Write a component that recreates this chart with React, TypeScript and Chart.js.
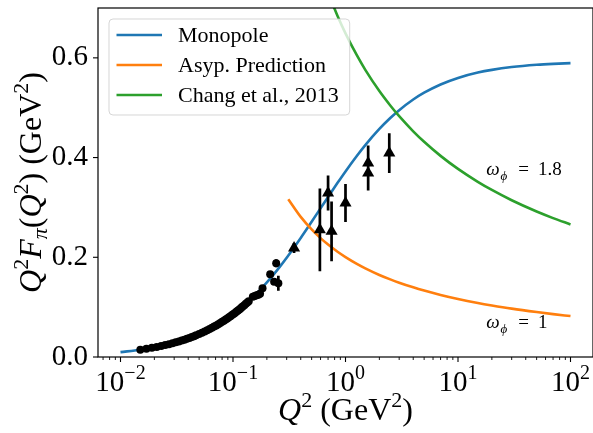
import React, { useEffect, useRef } from 'react';
import { Chart, registerables } from 'chart.js';
Chart.register(...registerables);

// ---- data ----
const curveQ2 = [0.01, 0.015, 0.02, 0.03, 0.04, 0.05, 0.07, 0.1, 0.15, 0.2, 0.25, 0.3, 0.4, 0.5, 0.6, 0.7, 0.85, 1, 1.25, 1.5, 2, 2.5, 3, 4, 5, 7, 10, 15, 20, 30, 50, 70, 100];
const monopole = [0.00983, 0.01463, 0.01935, 0.02856, 0.03747, 0.04611, 0.06261, 0.08557, 0.11971, 0.14956, 0.17586, 0.19922, 0.23887, 0.27131, 0.29824, 0.32104, 0.3493, 0.37225, 0.4022, 0.425, 0.45738, 0.4793, 0.4951, 0.51644, 0.53012, 0.54668, 0.5598, 0.57045, 0.57592, 0.58151, 0.58605, 0.58802, 0.5895];

const asypQ2 = [0.31, 0.4, 0.5, 0.6, 0.7, 0.85, 1, 1.25, 1.5, 2, 2.5, 3, 4, 5, 7, 10, 15, 20, 30, 50, 70, 100];
const asyp = [0.3164, 0.281, 0.2559, 0.2385, 0.2255, 0.2111, 0.2004, 0.1873, 0.1778, 0.1646, 0.1557, 0.1491, 0.1397, 0.1332, 0.1245, 0.1164, 0.1084, 0.1034, 0.097, 0.0901, 0.086, 0.0821];

const changQ2 = [0.7, 0.85, 1, 1.25, 1.5, 2, 2.5, 3, 4, 5, 7, 10, 15, 20, 30, 50, 70, 100];
const chang = [0.7308, 0.684, 0.6492, 0.6068, 0.576, 0.5334, 0.5045, 0.483, 0.4527, 0.4317, 0.4034, 0.3772, 0.3513, 0.335, 0.3144, 0.2918, 0.2786, 0.2659];

const dotQ2 = [0.015, 0.017, 0.019, 0.021, 0.023, 0.025, 0.027, 0.029, 0.031, 0.033, 0.035, 0.037, 0.039, 0.041, 0.043, 0.045, 0.047, 0.05, 0.053, 0.056, 0.059, 0.062, 0.065, 0.068, 0.071, 0.074, 0.077, 0.08, 0.083, 0.086, 0.089, 0.092, 0.095, 0.098, 0.101, 0.104, 0.107, 0.11, 0.113, 0.116, 0.119, 0.122, 0.126, 0.13, 0.134, 0.138, 0.15, 0.156, 0.162, 0.168, 0.174, 0.183, 0.214, 0.232];
const dotVal = [0.0146, 0.0165, 0.0184, 0.0203, 0.0221, 0.024, 0.0258, 0.0276, 0.0295, 0.0313, 0.033, 0.0348, 0.0365, 0.0383, 0.04, 0.0417, 0.0434, 0.046, 0.0486, 0.0512, 0.0537, 0.0561, 0.0586, 0.061, 0.0634, 0.0658, 0.0682, 0.0705, 0.0728, 0.0751, 0.0774, 0.0796, 0.0819, 0.0841, 0.0863, 0.0885, 0.0906, 0.0928, 0.0949, 0.097, 0.0991, 0.1012, 0.1039, 0.1066, 0.1093, 0.112, 0.121, 0.1225, 0.1238, 0.125, 0.1268, 0.138, 0.166, 0.151];

const dotErrQ2 = [0.242, 0.253];
const dotErrVal = [0.188, 0.148];
const dotErr = [0.008, 0.015];

const triQ2 = [0.349, 0.592, 0.7, 0.752, 1.0, 1.59, 1.59, 2.45];
const triVal = [0.2185, 0.255, 0.329, 0.252, 0.309, 0.389, 0.369, 0.409];
const triErr = [0.01, 0.083, 0.035, 0.06, 0.038, 0.035, 0.035, 0.04];

const xTickExps = [-2, -1, 0, 1, 2];
const yTicks = [0, 0.2, 0.4, 0.6];
const legendLabels = ['Monopole', 'Asyp. Prediction', 'Chang et al., 2013'];
const omegaLabels = ['1.8', '1'];
const omegaQ2 = [17.8, 17.8];
const omegaY = [0.366, 0.058];

const BLUE = '#1f77b4';
const ORANGE = '#ff7f0e';
const GREEN = '#2ca02c';
const FONT = '"Liberation Serif", "Times New Roman", serif';

type Part = { t: string; s?: number; it?: boolean; dy?: number; dx?: number };

function fontOf(p: Part, base: number) {
  return `${p.it ? 'italic ' : ''}${p.s ?? base}px ${FONT}`;
}
function drawRich(ctx: CanvasRenderingContext2D, parts: Part[], x: number, y: number, base: number, align: 'center' | 'left') {
  let w = 0;
  for (const p of parts) {
    ctx.font = fontOf(p, base);
    w += ctx.measureText(p.t).width + (p.dx ?? 0);
  }
  let cx = align === 'center' ? x - w / 2 : x;
  ctx.textAlign = 'left';
  ctx.textBaseline = 'alphabetic';
  for (const p of parts) {
    ctx.font = fontOf(p, base);
    cx += p.dx ?? 0;
    ctx.fillText(p.t, cx, y + (p.dy ?? 0));
    cx += ctx.measureText(p.t).width;
  }
}

const decorPlugin = {
  id: 'decor',
  afterDatasetsDraw(chart: any) {
    const ctx: CanvasRenderingContext2D = chart.ctx;
    const { left, right, top, bottom } = chart.chartArea;
    const xs = chart.scales.x;
    const ys = chart.scales.y;
    ctx.save();
    ctx.fillStyle = '#000';
    ctx.strokeStyle = '#000';
    // spines
    ctx.lineWidth = 1.2;
    ctx.strokeRect(left, top, right - left, bottom - top);
    // x ticks
    for (let e = -3; e <= 2; e++) {
      for (let m = 1; m <= 9; m++) {
        const v = m * Math.pow(10, e);
        const px = xs.getPixelForValue(v);
        if (px < left - 0.5 || px > right + 0.5) continue;
        ctx.lineWidth = m === 1 ? 1.1 : 0.9;
        ctx.beginPath();
        ctx.moveTo(px, bottom);
        ctx.lineTo(px, bottom + (m === 1 ? 5 : 3));
        ctx.stroke();
      }
    }
    // y ticks
    ctx.lineWidth = 1.1;
    for (const v of yTicks) {
      const py = ys.getPixelForValue(v);
      ctx.beginPath();
      ctx.moveTo(left, py);
      ctx.lineTo(left - 5, py);
      ctx.stroke();
    }
    // x tick labels
    for (const e of xTickExps) {
      const px = xs.getPixelForValue(Math.pow(10, e));
      const sup = e < 0 ? '\u2212' + Math.abs(e) : String(e);
      drawRich(ctx, [{ t: '10' }, { t: sup, s: 20, dy: -12 }], px, 391, 29, 'center');
    }
    // x axis title
    drawRich(ctx, [{ t: 'Q', it: true }, { t: '2', s: 22, dy: -13 }, { t: ' (GeV' }, { t: '2', s: 22, dy: -13 }, { t: ')' }], (left + right) / 2, 420, 32, 'center');
    // y axis title
    ctx.save();
    ctx.translate(41, (top + bottom) / 2);
    ctx.rotate(-Math.PI / 2);
    drawRich(ctx, [
      { t: 'Q', it: true }, { t: '2', s: 22, dy: -13 }, { t: 'F', it: true }, { t: 'π', it: true, s: 22, dy: 6 },
      { t: '(' }, { t: 'Q', it: true }, { t: '2', s: 22, dy: -13 }, { t: ')' },
      { t: ' (GeV' }, { t: '2', s: 22, dy: -13 }, { t: ')' },
    ], 0, 0, 32, 'center');
    ctx.restore();
    // omega annotations
    for (let i = 0; i < omegaLabels.length; i++) {
      const px = xs.getPixelForValue(omegaQ2[i]);
      const py = ys.getPixelForValue(omegaY[i]);
      drawRich(ctx, [
        { t: 'ω', it: true }, { t: 'ϕ', it: true, s: 13, dy: 5, dx: 1 },
        { t: '=', dx: 11 }, { t: omegaLabels[i], dx: 9 },
      ], px, py, 19, 'left');
    }
    // legend
    const items = chart.data.datasets.filter((d: any) => d.inLegend);
    ctx.font = `22px ${FONT}`;
    let maxW = 0;
    for (const d of items) maxW = Math.max(maxW, ctx.measureText(d.label).width);
    const lx = left + 11;
    const ly = top + 11;
    const lw = 69 + maxW + 11;
    const lh = 96;
    ctx.beginPath();
    const r = 4;
    ctx.moveTo(lx + r, ly);
    ctx.arcTo(lx + lw, ly, lx + lw, ly + lh, r);
    ctx.arcTo(lx + lw, ly + lh, lx, ly + lh, r);
    ctx.arcTo(lx, ly + lh, lx, ly, r);
    ctx.arcTo(lx, ly, lx + lw, ly, r);
    ctx.closePath();
    ctx.fillStyle = 'rgba(255,255,255,0.8)';
    ctx.fill();
    ctx.strokeStyle = 'rgba(204,204,204,0.8)';
    ctx.lineWidth = 1;
    ctx.stroke();
    items.forEach((d: any, i: number) => {
      const yy = ly + 16 + i * 30;
      ctx.strokeStyle = d.borderColor;
      ctx.lineWidth = 2.5;
      ctx.beginPath();
      ctx.moveTo(lx + 7.5, yy);
      ctx.lineTo(lx + 53, yy);
      ctx.stroke();
      ctx.fillStyle = '#000';
      ctx.font = `22px ${FONT}`;
      ctx.textAlign = 'left';
      ctx.textBaseline = 'middle';
      ctx.fillText(d.label, lx + 69, yy + 1);
    });
    ctx.restore();
  },
};

export default function App() {
  const ref = useRef<HTMLCanvasElement>(null);
  useEffect(() => {
    const canvas = ref.current!;
    const pts = (xs: number[], ys: number[]) => xs.map((x, i) => ({ x, y: ys[i] }));
    const errData: any[] = [];
    const addErr = (qs: number[], vs: number[], es: number[]) => {
      qs.forEach((q, i) => {
        errData.push({ x: q, y: vs[i] - es[i] }, { x: q, y: vs[i] + es[i] }, { x: q, y: null });
      });
    };
    addErr(triQ2, triVal, triErr);
    addErr(dotErrQ2, dotErrVal, dotErr);

    const chart = new Chart(canvas, {
      type: 'line',
      data: {
        datasets: [
          { label: legendLabels[0], inLegend: true, data: pts(curveQ2, monopole), borderColor: BLUE, borderWidth: 2.6, pointRadius: 0, cubicInterpolationMode: 'monotone', order: 5, clip: 0 } as any,
          { label: legendLabels[1], inLegend: true, data: pts(asypQ2, asyp), borderColor: ORANGE, borderWidth: 2.6, pointRadius: 0, cubicInterpolationMode: 'monotone', order: 4, clip: 0 } as any,
          { label: legendLabels[2], inLegend: true, data: pts(changQ2, chang), borderColor: GREEN, borderWidth: 2.6, pointRadius: 0, cubicInterpolationMode: 'monotone', order: 3, clip: 0 } as any,
          { label: 'err', data: errData, borderColor: '#000', borderWidth: 2.7, pointRadius: 0, spanGaps: false, order: 2, borderCapStyle: 'butt' } as any,
          { label: 'dots', data: pts(dotQ2.concat(dotErrQ2), dotVal.concat(dotErrVal)), showLine: false, pointRadius: 4, pointBackgroundColor: '#000', pointBorderColor: '#000', pointBorderWidth: 0, order: 1 } as any,
          { label: 'tri', data: pts(triQ2, triVal), showLine: false, pointStyle: 'triangle', pointRadius: 7, pointBackgroundColor: '#000', pointBorderColor: '#000', pointBorderWidth: 0, order: 0 } as any,
        ],
      },
      options: {
        animation: false,
        responsive: false,
        devicePixelRatio: 1,
        events: [],
        layout: { padding: { top: 8, right: 5, left: 0, bottom: 0 } },
        plugins: { legend: { display: false }, tooltip: { enabled: false } },
        scales: {
          x: {
            type: 'logarithmic',
            min: Math.pow(10, -2.2),
            max: Math.pow(10, 2.2),
            grid: { display: false, drawTicks: false },
            border: { display: false },
            ticks: { display: false },
            afterFit: (s: any) => { s.height = 76; s.paddingLeft = 0; s.paddingRight = 0; },
          },
          y: {
            type: 'linear',
            min: 0,
            max: 0.7,
            grid: { display: false, drawTicks: false },
            border: { display: false },
            afterBuildTicks: (s: any) => { s.ticks = yTicks.map((v) => ({ value: v })); },
            ticks: {
              color: '#000',
              font: { family: FONT, size: 29 },
              padding: 10,
              callback: (v: any) => Number(v).toFixed(1),
            },
            afterFit: (s: any) => { s.width = 98; s.paddingTop = 0; s.paddingBottom = 0; },
          },
        },
      } as any,
      plugins: [decorPlugin],
    });
    return () => chart.destroy();
  }, []);

  return (
    <div style={{ position: 'fixed', left: 0, top: 0, width: 593, height: 433, overflow: 'hidden', background: '#fff' }}>
      <canvas ref={ref} width={600} height={433} style={{ display: 'block', width: 600, height: 433 }} />
    </div>
  );
}
